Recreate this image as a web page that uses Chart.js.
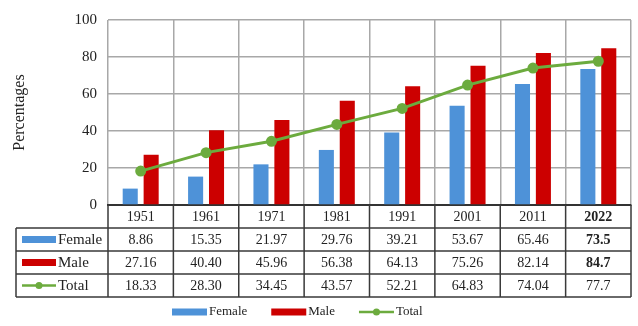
<!DOCTYPE html>
<html>
<head>
<meta charset="utf-8">
<script src="https://cdn.jsdelivr.net/npm/chart.js@4.4.1/dist/chart.umd.min.js"></script>
<style>
  html, body { margin: 0; padding: 0; background: #ffffff; }
  #wrap { width: 638px; height: 326px; }
</style>
</head>
<body>
<div id="wrap"><canvas id="chart" width="638" height="326"></canvas></div>
<script>
// Census years and literacy rates (%) by sex
const years = ['1951', '1961', '1971', '1981', '1991', '2001', '2011', '2022'];
const female = [8.86, 15.35, 21.97, 29.76, 39.21, 53.67, 65.46, 73.5];
const male = [27.16, 40.40, 45.96, 56.38, 64.13, 75.26, 82.14, 84.7];
const total = [18.33, 28.30, 34.45, 43.57, 52.21, 64.83, 74.04, 77.7];
// decimal places printed in the data table for each year
const decimals = [2, 2, 2, 2, 2, 2, 2, 1];
const yTicks = [0, 20, 40, 60, 80, 100];

const COLORS = { female: '#4E92D8', male: '#CC0000', total: '#6CAB3E' };
const SERIF = "'Liberation Serif', 'Times New Roman', serif";
const INK = '#222222';

// Draws the data table under the plot and the legend at the bottom
const dataTable = {
  id: 'dataTable',
  afterDraw(chart) {
    const ctx = chart.ctx;
    const area = chart.chartArea;
    const n = years.length;
    const colW = (area.right - area.left) / n;
    const rowH = 23;
    const top = area.bottom;
    const keyLeft = 16;
    const rows = [
      { label: 'Female', values: female, kind: 'bar', color: COLORS.female },
      { label: 'Male', values: male, kind: 'bar', color: COLORS.male },
      { label: 'Total', values: total, kind: 'line', color: COLORS.total }
    ];

    ctx.save();
    ctx.textBaseline = 'middle';
    ctx.fillStyle = INK;

    // header row with the years
    years.forEach((y, i) => {
      const cx = area.left + colW * (i + 0.5);
      ctx.font = (i === n - 1 ? 'bold ' : '') + '14px ' + SERIF;
      ctx.textAlign = 'center';
      ctx.fillText(y, cx, top + rowH / 2 + 1);
    });

    // value rows
    rows.forEach((r, ri) => {
      const cy = top + rowH * (ri + 1) + rowH / 2 + 1;
      r.values.forEach((v, i) => {
        const cx = area.left + colW * (i + 0.5);
        const bold = i === n - 1 && r.kind === 'bar';
        ctx.font = (bold ? 'bold ' : '') + '14px ' + SERIF;
        ctx.textAlign = 'center';
        ctx.fillStyle = INK;
        ctx.fillText(v.toFixed(decimals[i]), cx, cy);
      });
      drawKey(ctx, r, keyLeft + 6, cy - 1, 34);
      ctx.font = '15px ' + SERIF;
      ctx.textAlign = 'left';
      ctx.fillStyle = INK;
      ctx.fillText(r.label, keyLeft + 42, cy);
    });

    // table rules
    ctx.strokeStyle = '#3a3a3a';
    ctx.lineWidth = 1.5;
    const bottom = top + rowH * 4;
    ctx.beginPath();
    for (let k = 1; k <= 4; k++) {
      const y = top + rowH * k;
      ctx.moveTo(k === 4 || k >= 1 ? keyLeft : area.left, y);
      ctx.lineTo(area.right, y);
    }
    ctx.moveTo(keyLeft, top + rowH);
    ctx.lineTo(keyLeft, bottom);
    for (let i = 0; i <= n; i++) {
      const x = area.left + colW * i;
      ctx.moveTo(x, top);
      ctx.lineTo(x, bottom);
    }
    ctx.stroke();

    // legend below the table
    const ly = 312;
    ctx.font = '13px ' + SERIF;
    ctx.textAlign = 'left';
    let x = 172;
    rows.forEach(r => {
      drawKey(ctx, r, x, ly, 35);
      ctx.fillStyle = INK;
      ctx.fillText(r.label, x + 37, ly);
      x += 37 + ctx.measureText(r.label).width + 24;
    });
    ctx.restore();

    function drawKey(ctx, r, x0, cy, w) {
      if (r.kind === 'bar') {
        ctx.fillStyle = r.color;
        ctx.fillRect(x0, cy - 3.5, w, 7);
      } else {
        ctx.strokeStyle = r.color;
        ctx.lineWidth = 2.5;
        ctx.beginPath();
        ctx.moveTo(x0, cy);
        ctx.lineTo(x0 + w, cy);
        ctx.stroke();
        ctx.fillStyle = r.color;
        ctx.beginPath();
        ctx.arc(x0 + w / 2, cy, 3.5, 0, Math.PI * 2);
        ctx.fill();
      }
    }
  }
};

new Chart(document.getElementById('chart'), {
  type: 'bar',
  data: {
    labels: years,
    datasets: [
      {
        type: 'line', label: 'Total', data: total, order: 0,
        borderColor: COLORS.total, backgroundColor: COLORS.total,
        borderWidth: 3, pointRadius: 4, pointHoverRadius: 4, tension: 0
      },
      {
        label: 'Female', data: female, order: 1,
        backgroundColor: COLORS.female,
        categoryPercentage: 0.64, barPercentage: 0.72
      },
      {
        label: 'Male', data: male, order: 1,
        backgroundColor: COLORS.male,
        categoryPercentage: 0.64, barPercentage: 0.72
      }
    ]
  },
  options: {
    responsive: false,
    animation: false,
    devicePixelRatio: 1,
    layout: { padding: { left: 0, right: 2, top: 19, bottom: 121 } },
    plugins: { legend: { display: false }, tooltip: { enabled: false } },
    scales: {
      x: {
        offset: true,
        ticks: { display: false },
        grid: { color: '#a8a8a8', lineWidth: 1.5, drawTicks: false, offset: true },
        border: { color: '#333333', width: 2 }
      },
      y: {
        min: 0, max: 100,
        afterBuildTicks(scale) { scale.ticks = yTicks.map(v => ({ value: v })); },
        afterFit(scale) { scale.width = 108; },
        ticks: { color: INK, padding: 11, font: { family: SERIF, size: 15 } },
        grid: { color: '#a8a8a8', lineWidth: 1.5, drawTicks: false },
        border: { display: false },
        title: {
          display: true, text: 'Percentages', color: INK,
          font: { family: SERIF, size: 16 }, padding: { top: 10, bottom: 0 }
        }
      }
    }
  },
  plugins: [dataTable]
});
</script>
</body>
</html>
